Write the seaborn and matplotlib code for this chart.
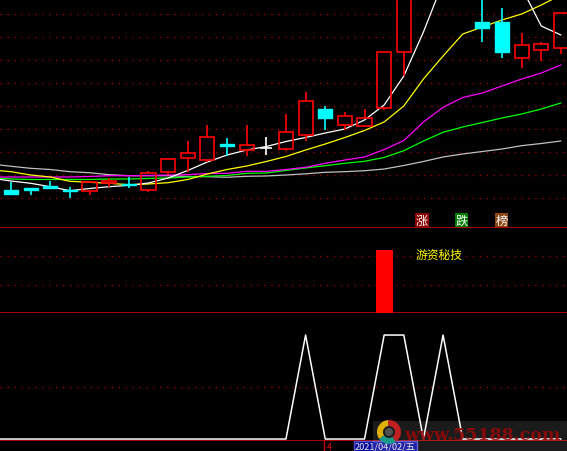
import numpy as np
import matplotlib
matplotlib.use("Agg")
import matplotlib.pyplot as plt
from matplotlib.patches import Rectangle, Wedge, Circle
from matplotlib.transforms import IdentityTransform
import seaborn as sns

# trading days, -1 is the bar just off the left edge
days = list(range(-1, 29))

# daily candles (price, 0.5 per line)
opens = [8.25, 8.18, 8.22, 8.27, 8.18, 8.16, 8.33, 8.31, 8.18, 8.57, 8.87,
         8.83, 9.18, 9.05, 9.09, 9.07, 9.37, 9.93, 9.59, 9.57, 9.96,
         11.17, 13.0, 14.3, 13.9, 11.82, 11.82, 11.04, 11.21, 11.25]
highs = [8.30, 8.35, 8.22, 8.37, 8.25, 8.35, 8.44, 8.46, 8.59, 8.87, 9.24,
         9.59, 9.30, 9.59, 9.33, 9.82, 10.30, 10.00, 9.87, 9.93, 11.17,
         12.95, 14.1, 15.0, 14.2, 12.6, 12.12, 11.58, 11.38, 12.01]
lows = [8.12, 8.09, 8.07, 8.20, 8.01, 8.07, 8.25, 8.22, 8.14, 8.50, 8.57,
        8.79, 8.92, 8.92, 8.94, 9.02, 9.24, 9.48, 9.48, 9.54, 9.91,
        10.65, 12.8, 13.5, 12.9, 11.38, 11.04, 10.82, 10.97, 11.12]
closes = [8.18, 8.09, 8.18, 8.22, 8.16, 8.35, 8.37, 8.29, 8.55, 8.85, 8.98,
          9.33, 9.13, 9.15, 9.09, 9.43, 10.11, 9.74, 9.78, 9.74, 11.17,
          12.82, 14.1, 14.0, 13.1, 11.69, 11.17, 11.32, 11.34, 12.01]

# moving averages
ma5 = [8.435, 8.374, 8.325, 8.251, 8.165, 8.212, 8.251, 8.281, 8.331, 8.439, 8.602,
       8.786, 8.937, 9.045, 9.121, 9.229, 9.316, 9.413, 9.500, 9.695, 10.019,
       10.647, 11.600, 12.68, 13.10, 13.30, 13.00, 12.56, 11.729, 11.535]
ma10 = [8.613, 8.576, 8.504, 8.461, 8.368, 8.346, 8.325, 8.294, 8.310, 8.338, 8.407,
        8.526, 8.623, 8.699, 8.797, 8.905, 9.045, 9.175, 9.316, 9.468, 9.652,
        9.998, 10.582, 11.080, 11.556, 11.708, 11.860, 11.989, 12.184, 12.40]
ma20 = [8.461, 8.461, 8.461, 8.461, 8.461, 8.472, 8.489, 8.489, 8.494, 8.504, 8.511,
        8.537, 8.541, 8.584, 8.584, 8.623, 8.671, 8.758, 8.829, 8.894, 9.056,
        9.251, 9.652, 9.970, 10.182, 10.279, 10.431, 10.582, 10.712, 10.887]
ma30 = [8.45, 8.418, 8.407, 8.407, 8.407, 8.407, 8.418, 8.418, 8.429, 8.439, 8.461,
        8.476, 8.494, 8.541, 8.548, 8.602, 8.656, 8.706, 8.758, 8.801, 8.883,
        9.030, 9.240, 9.429, 9.543, 9.641, 9.738, 9.825, 9.933, 10.063]
ma60 = [8.742, 8.693, 8.649, 8.623, 8.576, 8.554, 8.511, 8.489, 8.489, 8.489, 8.472,
        8.468, 8.455, 8.476, 8.483, 8.504, 8.530, 8.563, 8.576, 8.597, 8.634,
        8.710, 8.797, 8.894, 8.959, 9.013, 9.067, 9.139, 9.186, 9.240]

grid_levels = [8.0, 8.5, 9.0, 9.5, 10.0, 10.5, 11.0, 11.5, 12.0]

# "游资秘技" signal bar and the lower signal line
signal_bar = [0, 0, 0, 0, 0, 0, 0, 0, 0, 0, 0, 0, 0, 0, 0, 0, 0, 0, 0, 0, 1,
              0, 0, 0, 0, 0, 0, 0, 0, 0]
signal_line = [0, 0, 0, 0, 0, 0, 0, 0, 0, 0, 0, 0, 0, 0, 0, 0, 1, 0, 0, 0, 1,
               1, 0, 1, 0, 0, 0, 0, 0, 0]

tick_days = [4.5, 10.2]
month_day = 16
month_label = "4"
cursor_label = "2021/04/02/五"
board_labels = ["涨", "跌", "榜"]
board_colors = ["#8b0000", "#007a00", "#8b4513"]

sns.set_theme(style="dark", rc={"axes.facecolor": "black",
                                "figure.facecolor": "black",
                                "savefig.facecolor": "black"})
plt.rcParams['font.family'] = ['Noto Sans CJK SC', 'DejaVu Sans']

RED = "#ff0000"
EDGE = "#c80000"
GRID = "#8b0000"
CYAN = "#00ffff"
W, H = 567, 452


def rect(top, bottom):
    return [0, 1 - bottom / H, 1, (bottom - top) / H]


fig = plt.figure(figsize=(W / 100, H / 100), dpi=100)
ax1 = fig.add_axes(rect(0, 229))
ax2 = fig.add_axes(rect(229, 314))
ax3 = fig.add_axes(rect(314, 442))
ax4 = fig.add_axes(rect(442, 452))

for ax in (ax1, ax2, ax3, ax4):
    ax.set_facecolor("black")
    for s in ("top", "left", "right"):
        ax.spines[s].set_visible(False)
    ax.spines["bottom"].set_color(EDGE)
    ax.spines["bottom"].set_linewidth(1.2)
    ax.set_xlim(-0.56, 28.31)
ax4.spines["bottom"].set_visible(False)

# ---- main price panel ----
for ma, col in ((ma60, "#c0c0c0"), (ma30, "#00ff00"), (ma20, "#ff00ff"),
                (ma10, "#ffff00"), (ma5, "white")):
    sns.lineplot(x=days, y=ma, color=col, lw=0.9, ax=ax1, legend=False, zorder=2)

d = np.array(days)
o = np.array(opens)
h = np.array(highs)
l = np.array(lows)
c = np.array(closes)
up = c > o
dn = c < o
flat = c == o

ax1.vlines(d[up], l[up], o[up], color=RED, lw=1.2, zorder=3)
ax1.vlines(d[up], c[up], h[up], color=RED, lw=1.2, zorder=3)
ax1.bar(d[up], c[up] - o[up], bottom=o[up], width=0.72, facecolor="none",
        edgecolor=RED, lw=1.2, zorder=3)
ax1.vlines(d[dn], l[dn], h[dn], color=CYAN, lw=1.2, zorder=3)
ax1.bar(d[dn], o[dn] - c[dn], bottom=c[dn], width=0.72, facecolor=CYAN,
        edgecolor=CYAN, lw=1.0, zorder=4)
ax1.vlines(d[flat], l[flat], h[flat], color="white", lw=1.2, zorder=3)
ax1.hlines(c[flat], d[flat] - 0.3, d[flat] + 0.3, color="white", lw=1.2, zorder=3)

ax1.set_ylim(7.357, 12.314)
ax1.set_yticks(grid_levels)
ax1.grid(axis="y", color=GRID, linestyle=(0, (1, 4)), lw=1.0)
ax1.grid(axis="x", visible=False)
ax1.tick_params(left=False, labelleft=False, bottom=False, labelbottom=False)

for i, (t, bc) in enumerate(zip(board_labels, board_colors)):
    ax1.text((422 + 39.7 * i) / W, (229 - 221) / 229, t, transform=ax1.transAxes,
             ha="center", va="center", color="white", fontsize=8.8,
             bbox=dict(boxstyle="square,pad=0.05", fc=bc, ec="none"))

# ---- middle signal panel ----
ax2.bar(days, signal_bar, width=0.87, color=RED, lw=0, zorder=3)
ax2.set_ylim(0, 1.35)
ax2.set_yticks([0.45, 0.9])
ax2.grid(axis="y", color=GRID, linestyle=(0, (1, 4)), lw=1.0)
ax2.grid(axis="x", visible=False)
ax2.tick_params(left=False, labelleft=False, bottom=False, labelbottom=False)
ax2.text(416 / W, (314 - 255) / 85, "游资秘技", transform=ax2.transAxes,
         ha="left", va="center", color="#ffff00", fontsize=8.5)

# ---- lower indicator ----
sns.lineplot(x=days, y=signal_line, color="white", lw=1.1, ax=ax3, legend=False)
ax3.set_ylim(-0.019, 1.212)
ax3.set_yticks([0.5])
ax3.grid(axis="y", color=GRID, linestyle=(0, (1, 4)), lw=1.0)
ax3.grid(axis="x", visible=False)
ax3.set_xlim(-0.56, 28.31)
ax3.set_xticks(tick_days)
ax3.set_xticklabels([])
ax3.tick_params(left=False, labelleft=False, bottom=True, color=EDGE,
                length=3, width=1, direction="out")

# ---- time axis ----
ax4.set_ylim(0, 1)
ax4.set_xticks([])
ax4.set_yticks([])
ax4.grid(False)
ax4.axvline(month_day - 0.05, color=EDGE, lw=1)
ax4.text(month_day + 0.08, 0.45, month_label, color=RED, fontsize=6,
         ha="left", va="center")
ax4.text(17.5, 0.45, cursor_label, color="#e8e8e8", fontsize=6.6,
         ha="left", va="center",
         bbox=dict(boxstyle="square,pad=0.12", fc="#0a0a9c", ec="#5050d0", lw=1))

# ---- watermark ----
fig.add_artist(Rectangle((372.7, 0), W - 372.7, H - 421.7, transform=IdentityTransform(),
                         fc="white", alpha=0.11, ec="none", zorder=10))
cx, cy = 389, H - 433
for a0, a1, col in ((95, 215, "#e0b000"), (-55, 95, "#c02020"), (215, 305, "#1a9a8a")):
    fig.add_artist(Wedge((cx, cy), 12, a0, a1, width=6, fc=col, ec="none",
                         transform=IdentityTransform(), zorder=11))
fig.add_artist(Circle((cx, cy), 4, fc="#505050", ec="none",
                      transform=IdentityTransform(), zorder=11))
fig.text(482 / W, 1 - 436 / H, "www.55188.com", color="#960808", alpha=0.9,
         fontsize=12.5, family="DejaVu Serif", weight="bold",
         ha="center", va="center", zorder=12)

fig.savefig("out.png", dpi=100, facecolor="black")
